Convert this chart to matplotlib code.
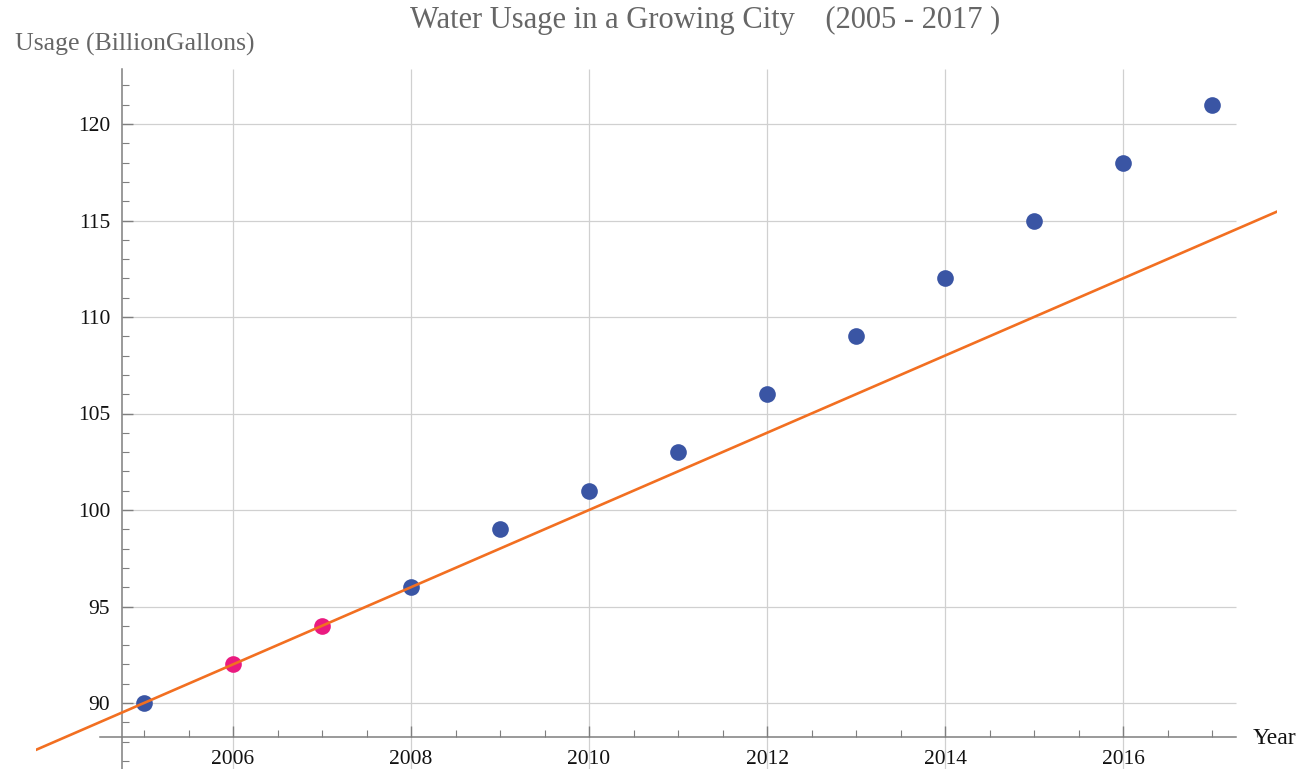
import matplotlib
matplotlib.use("Agg")
import matplotlib.pyplot as plt
import numpy as np

years = [2005, 2006, 2007, 2008, 2009, 2010, 2011, 2012, 2013, 2014, 2015, 2016, 2017]
usage = [90, 92, 94, 96, 99, 101, 103, 106, 109, 112, 115, 118, 121]
highlight_years = [2006, 2007]
highlight_usage = [92, 94]
x_ticks = [2006, 2008, 2010, 2012, 2014, 2016]
y_ticks = [90, 95, 100, 105, 110, 115, 120]

title = "Water Usage in a Growing City    (2005 - 2017 )"
ylabel = "Usage (BillionGallons)"
xlabel = "Year"

plt.rcParams['font.family'] = ['Liberation Serif', 'DejaVu Serif']

W, H = 1299, 769
fig = plt.figure(figsize=(W / 100, H / 100), dpi=100)
# pixel geometry
left_px, right_px, top_px, bot_px = 36, 1277, 69, 769
ax = fig.add_axes([left_px / W, 1 - bot_px / H, (right_px - left_px) / W, (bot_px - top_px) / H])

px_per_year = 89.0
px_per_unit = 19.3
x0_px, y0_px = 144.0, 703.0  # 2005, 90
def px2x(p): return 2005 + (p - x0_px) / px_per_year
def px2y(p): return 90 - (p - y0_px) / px_per_unit

xmin, xmax = px2x(left_px), px2x(right_px)
ymin, ymax = px2y(bot_px), px2y(top_px)
ax.set_xlim(xmin, xmax)
ax.set_ylim(ymin, ymax)

x_origin = px2x(122)
y_origin = px2y(737)
grid_right = px2x(1236)

for s in ['top', 'right']:
    ax.spines[s].set_visible(False)
ax.spines['left'].set_position(('data', x_origin))
ax.spines['bottom'].set_position(('data', y_origin))
ax.spines['bottom'].set_bounds(px2x(100), grid_right)
ax.spines['left'].set_bounds(ymin, ymax)
for s in ['left', 'bottom']:
    ax.spines[s].set_color('#7f7f7f')
    ax.spines[s].set_linewidth(1.1)

# grid
ax.vlines(x_ticks, ymin, ymax, colors='#d0d0d0', linewidth=0.9, zorder=0)
ax.hlines(y_ticks, x_origin, grid_right, colors='#d0d0d0', linewidth=0.9, zorder=0)

# data
fit_x = np.array([xmin, xmax])
slope = (highlight_usage[1] - highlight_usage[0]) / (highlight_years[1] - highlight_years[0])
fit_y = highlight_usage[0] + slope * (fit_x - highlight_years[0])

others = [(x, y) for x, y in zip(years, usage) if x not in highlight_years]
ax.plot([o[0] for o in others], [o[1] for o in others], 'o', color='#3a55a4',
        markersize=12, markeredgewidth=0, zorder=3)
ax.plot(highlight_years, highlight_usage, 'o', color='#ea1a80',
        markersize=12, markeredgewidth=0, zorder=3)
ax.plot(fit_x, fit_y, '-', color='#f26f21', linewidth=1.9, zorder=4, clip_on=True)

# ticks
ax.set_xticks(x_ticks)
ax.set_xticks(np.arange(2005, 2017.6, 0.5), minor=True)
ax.set_yticks(y_ticks)
ax.set_yticks(np.arange(87, 123, 1), minor=True)
ax.tick_params(axis='both', which='major', direction='in', length=8, width=1.0,
               color='#7f7f7f', labelsize=15.5, labelcolor='#111111')
ax.tick_params(axis='both', which='minor', direction='in', length=5, width=0.8,
               color='#7f7f7f')
ax.tick_params(axis='x', which='major', pad=9.5)
ax.tick_params(axis='y', which='major', pad=8.5)

fig.text(705 / W, 1 - 20 / H, title, ha='center', va='center', fontsize=22, color='#666666')
fig.text(15 / W, 1 - 44 / H, ylabel, ha='left', va='center', fontsize=18.5, color='#666666')
fig.text(1253 / W, 1 - 738 / H, xlabel, ha='left', va='center', fontsize=17, color='#111111')

fig.savefig('out.png', dpi=100)
